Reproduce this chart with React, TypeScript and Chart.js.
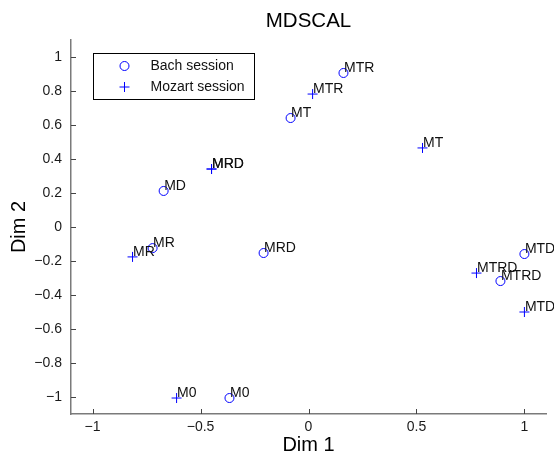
import React, { useEffect, useRef } from "react";
import { Chart, registerables } from "chart.js";

Chart.register(...registerables);

const FONT = '"Liberation Sans", Arial, Helvetica, sans-serif';

const CHART_TITLE = "MDSCAL";
const X_TITLE = "Dim 1";
const Y_TITLE = "Dim 2";
const SERIES_NAMES = ["Bach session", "Mozart session"];

const BACH_LABELS = ["M0", "MR", "MD", "MT", "MRD", "MTR", "MTD", "MTRD"];
const BACH_X = [-0.366, -0.722, -0.671, -0.083, -0.208, 0.162, 1.0, 0.889];
const BACH_Y = [-1.006, -0.124, 0.212, 0.641, -0.153, 0.906, -0.159, -0.318];

const MOZART_LABELS = ["M0", "MR", "MRD", "MT", "MRD", "MTR", "MTD", "MTRD"];
const MOZART_X = [-0.611, -0.815, -0.449, 0.528, -0.449, 0.019, 1.0, 0.778];
const MOZART_Y = [-1.006, -0.176, 0.341, 0.465, 0.341, 0.782, -0.5, -0.271];

const X_TICKS = [-1, -0.5, 0, 0.5, 1];
const Y_TICKS = [-1, -0.8, -0.6, -0.4, -0.2, 0, 0.2, 0.4, 0.6, 0.8, 1];
const X_RANGE = [-1.1, 1.1];
const Y_RANGE = [-1.1, 1.1];

const BLUE = "#0000ff";
const AXIS_COLOR = "#7a7a7a";

const fmt = (v: number) => String(+Number(v).toFixed(2)).replace("-", "\u2212");

const pointLabelsPlugin = {
  id: "pointLabels",
  afterDatasetsDraw(chart: any) {
    const ctx = chart.ctx;
    const xs = chart.scales.x;
    const ys = chart.scales.y;
    const sets = [
      { lx: BACH_X, ly: BACH_Y, lab: BACH_LABELS },
      { lx: MOZART_X, ly: MOZART_Y, lab: MOZART_LABELS },
    ];
    ctx.save();
    ctx.font = `14px ${FONT}`;
    ctx.fillStyle = "#111";
    ctx.textAlign = "left";
    ctx.textBaseline = "middle";
    sets.forEach((s) => {
      s.lab.forEach((t, i) => {
        const px = xs.getPixelForValue(s.lx[i]);
        const py = ys.getPixelForValue(s.ly[i]);
        ctx.fillText(t, px + 0.5, py - 5);
      });
    });
    ctx.restore();
  },
};

const innerTicksPlugin = {
  id: "innerTicks",
  afterDraw(chart: any) {
    const ctx = chart.ctx;
    const xs = chart.scales.x;
    const ys = chart.scales.y;
    const a = chart.chartArea;
    ctx.save();
    ctx.strokeStyle = "#444";
    ctx.lineWidth = 1;
    ctx.beginPath();
    X_TICKS.forEach((v) => {
      const px = Math.round(xs.getPixelForValue(v)) + 0.5;
      ctx.moveTo(px, a.bottom);
      ctx.lineTo(px, a.bottom - 5);
    });
    Y_TICKS.forEach((v) => {
      const py = Math.round(ys.getPixelForValue(v)) + 0.5;
      ctx.moveTo(a.left, py);
      ctx.lineTo(a.left + 5, py);
    });
    ctx.stroke();
    ctx.restore();
  },
};

const boxLegendPlugin = {
  id: "boxLegend",
  afterDraw(chart: any) {
    const ctx = chart.ctx;
    const a = chart.chartArea;
    const left = Math.round(a.left + 22) + 0.5;
    const top = Math.round(a.top + 13) + 0.5;
    const w = 161;
    const h = 46;
    ctx.save();
    ctx.fillStyle = "#fff";
    ctx.fillRect(left, top, w, h);
    ctx.strokeStyle = "#000";
    ctx.lineWidth = 1;
    ctx.strokeRect(left, top, w, h);
    const mx = left + 31;
    const rows = [top + 12.5, top + 33.5];
    ctx.strokeStyle = BLUE;
    ctx.beginPath();
    ctx.arc(mx, rows[0], 4.5, 0, Math.PI * 2);
    ctx.stroke();
    ctx.beginPath();
    ctx.moveTo(mx - 5, rows[1]);
    ctx.lineTo(mx + 5, rows[1]);
    ctx.moveTo(mx, rows[1] - 5);
    ctx.lineTo(mx, rows[1] + 5);
    ctx.stroke();
    ctx.fillStyle = "#111";
    ctx.font = `14px ${FONT}`;
    ctx.textAlign = "left";
    ctx.textBaseline = "middle";
    SERIES_NAMES.forEach((n, i) => ctx.fillText(n, left + 57, rows[i]));
    ctx.restore();
  },
};

export default function App() {
  const ref = useRef<HTMLCanvasElement | null>(null);
  useEffect(() => {
    if (!ref.current) return;
    const chart = new Chart(ref.current, {
      type: "scatter",
      data: {
        datasets: [
          {
            label: SERIES_NAMES[0],
            data: BACH_X.map((x, i) => ({ x, y: BACH_Y[i] })),
            pointStyle: "circle",
            pointRadius: 4.5,
            pointBorderWidth: 1,
            pointBorderColor: BLUE,
            pointBackgroundColor: "rgba(0,0,0,0)",
            borderColor: BLUE,
            backgroundColor: "rgba(0,0,0,0)",
          },
          {
            label: SERIES_NAMES[1],
            data: MOZART_X.map((x, i) => ({ x, y: MOZART_Y[i] })),
            pointStyle: "cross",
            pointRadius: 5,
            pointBorderWidth: 1,
            pointBorderColor: BLUE,
            pointBackgroundColor: BLUE,
            borderColor: BLUE,
            backgroundColor: BLUE,
          },
        ],
      },
      options: {
        animation: false,
        responsive: false,
        events: [],
        layout: { padding: { left: 0, right: 8, top: 0, bottom: 0 } },
        plugins: {
          legend: { display: false },
          tooltip: { enabled: false },
          title: {
            display: true,
            text: CHART_TITLE,
            fullSize: false,
            color: "#000",
            font: { size: 20.5, family: FONT, weight: "normal", lineHeight: 1 },
            padding: { top: 11.5, bottom: 8 },
          },
        },
        scales: {
          x: {
            type: "linear",
            min: X_RANGE[0],
            max: X_RANGE[1],
            grid: { display: false, drawTicks: false },
            border: { display: true, color: AXIS_COLOR, width: 1.5 },
            afterBuildTicks: (s: any) => {
              s.ticks = X_TICKS.map((v) => ({ value: v }));
            },
            afterFit: (s: any) => {
              s.height = 41;
            },
            ticks: {
              padding: 5,
              color: "#1a1a1a",
              autoSkip: false,
              maxRotation: 0,
              font: { size: 14, family: FONT },
              callback: (v: any) => fmt(v),
            },
            title: {
              display: true,
              text: X_TITLE,
              color: "#000",
              font: { size: 20, family: FONT, lineHeight: 1 },
              padding: { top: 0, bottom: 0 },
            },
          },
          y: {
            type: "linear",
            min: Y_RANGE[0],
            max: Y_RANGE[1],
            grid: { display: false, drawTicks: false },
            border: { display: true, color: AXIS_COLOR, width: 1.5 },
            afterBuildTicks: (s: any) => {
              s.ticks = Y_TICKS.map((v) => ({ value: v }));
            },
            afterFit: (s: any) => {
              s.width = 71;
            },
            ticks: {
              padding: 9,
              color: "#1a1a1a",
              autoSkip: false,
              font: { size: 14, family: FONT },
              callback: (v: any) => fmt(v),
            },
            title: {
              display: true,
              text: Y_TITLE,
              color: "#000",
              font: { size: 20, family: FONT, lineHeight: 1 },
              padding: { top: 9, bottom: 0 },
            },
          },
        },
      },
      plugins: [pointLabelsPlugin, innerTicksPlugin, boxLegendPlugin],
    } as any);
    return () => chart.destroy();
  }, []);
  return (
    <div style={{ position: "fixed", left: 0, top: 0, width: 554, height: 455, background: "#fff" }}>
      <canvas ref={ref} width={554} height={455} style={{ display: "block" }} />
    </div>
  );
}
